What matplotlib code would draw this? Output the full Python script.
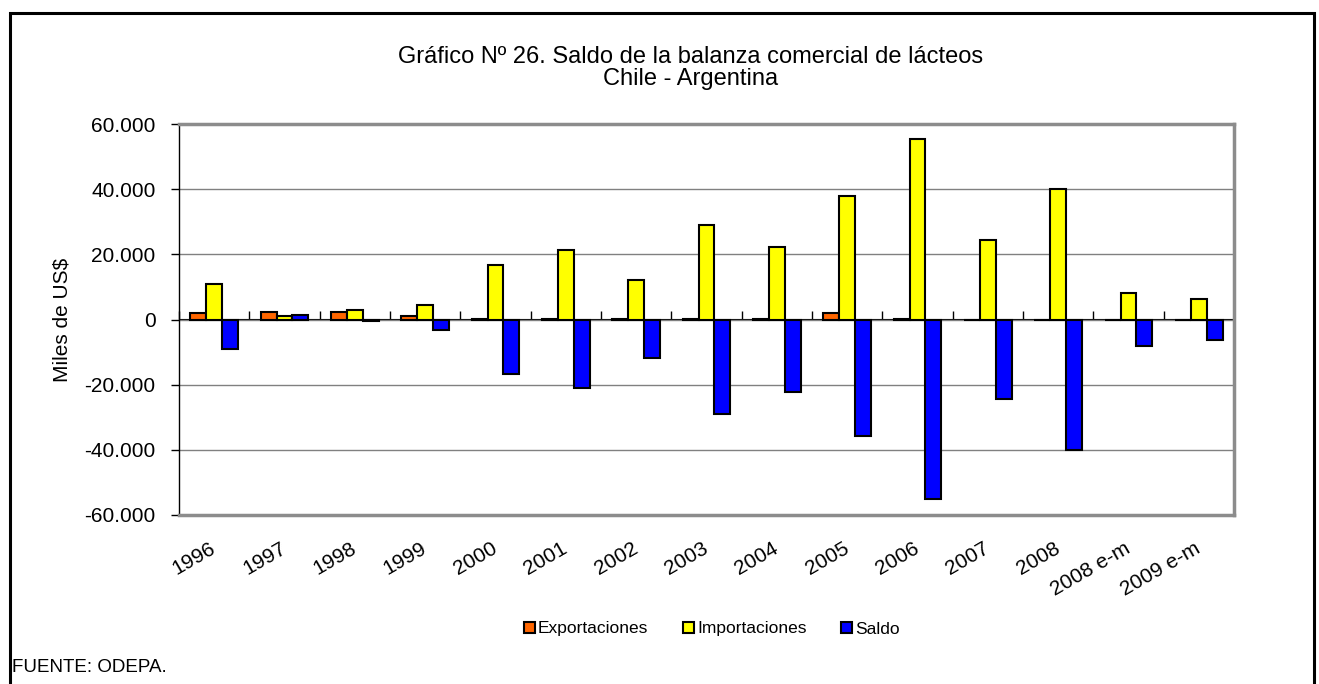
import numpy as np
import matplotlib.pyplot as plt
from matplotlib.patches import Patch, Rectangle
from matplotlib.ticker import FuncFormatter

plt.rcParams['font.family'] = ['Liberation Sans', 'DejaVu Sans']

# datos (miles de US$)
categorias = ['1996', '1997', '1998', '1999', '2000', '2001', '2002', '2003',
              '2004', '2005', '2006', '2007', '2008', '2008 e-m', '2009 e-m']
exportaciones = [2000, 2300, 2400, 1200, 200, 200, 100, 100, 200, 1900, 200, 0, 0, 0, 0]
importaciones = [11000, 1000, 2800, 4500, 16800, 21300, 12000, 29000, 22300,
                 37800, 55400, 24300, 40200, 8100, 6300]
saldo = [-9000, 1300, -400, -3300, -16600, -21100, -11900, -28900, -22100,
         -35900, -55200, -24300, -40200, -8100, -6300]

W, H = 1319, 684
fig = plt.figure(figsize=(W / 100, H / 100), dpi=100)
fig.patch.set_facecolor('white')

# marco exterior
fig.patches.append(Rectangle((10 / W, -0.05), 1304 / W, 1.05 - 13 / H,
                             transform=fig.transFigure, fill=False,
                             edgecolor='black', lw=2.2))

ax = fig.add_axes([179 / W, (H - 515) / H, 1055 / W, 391 / H])

x = np.arange(len(categorias))
w = 0.225
ax.bar(x - w, exportaciones, w, color='#FF6600', edgecolor='black', lw=1.5, zorder=3)
ax.bar(x, importaciones, w, color='#FFFF00', edgecolor='black', lw=1.5, zorder=3)
ax.bar(x + w, saldo, w, color='#0000FF', edgecolor='black', lw=1.5, zorder=3)

ax.set_xlim(-0.5, len(categorias) - 0.5)
ax.set_ylim(-60000, 60000)
ax.set_yticks(np.arange(-60000, 60001, 20000))
ax.yaxis.set_major_formatter(FuncFormatter(lambda v, p: f'{v:,.0f}'.replace(',', '.')))
ax.tick_params(axis='y', length=6, width=1, direction='out', pad=11, labelsize=15)
ax.yaxis.grid(True, color='#808080', lw=1)
ax.set_axisbelow(True)

for s in ['top', 'right', 'bottom']:
    ax.spines[s].set_color('#8c8c8c')
    ax.spines[s].set_linewidth(2.5)
ax.spines['left'].set_color('black')
ax.spines['left'].set_linewidth(1)

# eje de categorias en cero
ax.set_xticks(x)
ax.set_xticklabels(categorias, rotation=30, ha='right', va='center',
                   rotation_mode='anchor', fontsize=15)
ax.tick_params(axis='x', length=0, pad=23)
sec = ax.secondary_xaxis(0.5)
sec.set_xticks(np.arange(len(categorias) + 1) - 0.5)
sec.set_xticklabels([])
sec.tick_params(axis='x', length=6, width=1, direction='out', color='black')
sec.spines['bottom'].set_color('black')
sec.spines['bottom'].set_linewidth(1.2)

fig.text(62 / W, 1 - 320 / H, 'Miles de US$', rotation=90, ha='center',
         va='center', fontsize=15)

fig.text(691 / W, 1 - 57 / H, 'Gráfico Nº 26. Saldo de la balanza comercial de lácteos',
         ha='center', va='center', fontsize=17)
fig.text(691 / W, 1 - 79 / H, 'Chile - Argentina', ha='center', va='center', fontsize=17)

handles = [Patch(facecolor=c, edgecolor='black', lw=1.5)
           for c in ['#FF6600', '#FFFF00', '#0000FF']]
fig.legend(handles, ['Exportaciones', 'Importaciones', 'Saldo'],
           loc='center', bbox_to_anchor=(712 / W, 1 - 629 / H), ncol=3,
           frameon=False, fontsize=12.5, handlelength=0.6, handleheight=0.6,
           handletextpad=0.2, columnspacing=2.0)

fig.text(12 / W, 1 - 668 / H, 'FUENTE: ODEPA.', ha='left', va='center', fontsize=13.5)

fig.savefig('out.png', dpi=100)
